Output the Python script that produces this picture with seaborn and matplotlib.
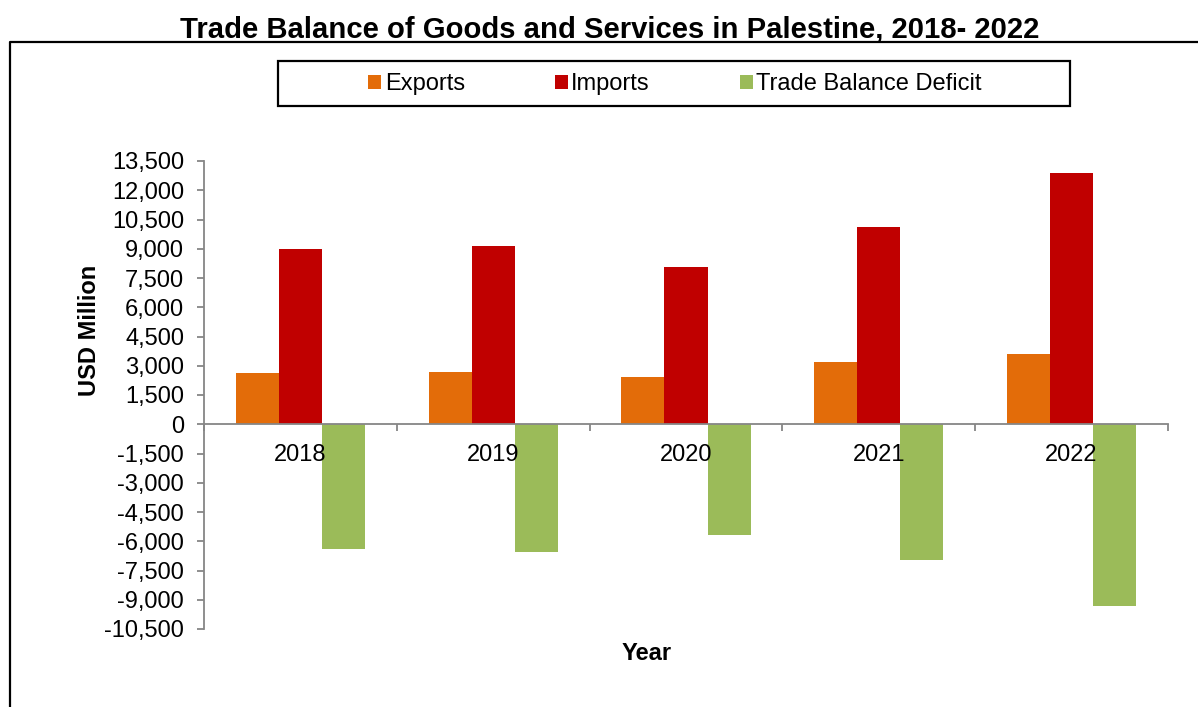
import matplotlib
matplotlib.use("Agg")
import matplotlib.pyplot as plt
import seaborn as sns
import pandas as pd
from matplotlib.patches import Rectangle
from matplotlib.lines import Line2D
from matplotlib.ticker import FuncFormatter, MultipleLocator, FixedLocator

years = ["2018", "2019", "2020", "2021", "2022"]
exports = [2650, 2690, 2410, 3170, 3590]
imports = [8990, 9150, 8060, 10100, 12870]
deficit = [-6420, -6540, -5700, -6970, -9340]
series_names = ["Exports", "Imports", "Trade Balance Deficit"]
colors = ["#E36C09", "#C00000", "#9BBB59"]

rows = []
for name, vals in zip(series_names, [exports, imports, deficit]):
    for y, v in zip(years, vals):
        rows.append({"Year": y, "Series": name, "Value": v})
df = pd.DataFrame(rows)

sns.set_theme(style="white")
plt.rcParams["font.family"] = ["Liberation Sans", "DejaVu Sans"]
plt.rcParams["text.color"] = "black"

W, H = 1198, 707
fig = plt.figure(figsize=(W / 100, H / 100), dpi=100)
ax = fig.add_axes([204 / W, 1 - 629 / H, (1168 - 204) / W, (629 - 161) / H])

sns.barplot(data=df, x="Year", y="Value", hue="Series", order=years,
            hue_order=series_names, palette=colors, width=0.67, gap=0,
            saturation=1, errorbar=None, ax=ax, legend=False,
            edgecolor="none", linewidth=0)
for p in ax.patches:
    p.set_zorder(1)
ax.set_axisbelow(False)

ax.set_ylim(-10500, 13500)
ax.set_xlim(-0.5, 4.5)
ax.yaxis.set_major_locator(MultipleLocator(1500))
ax.yaxis.set_major_formatter(FuncFormatter(lambda v, p: f"{int(round(v)):,}"))

grey = "#868686"
for s in ["top", "right"]:
    ax.spines[s].set_visible(False)
ax.spines["left"].set_color(grey)
ax.spines["left"].set_linewidth(1.3)
ax.spines["bottom"].set_color(grey)
ax.spines["bottom"].set_linewidth(1.3)
ax.spines["bottom"].set_position(("data", 0))

ax.tick_params(axis="y", which="major", direction="out", length=5.3, width=1.3,
               color=grey, labelsize=17, pad=9, left=True, labelcolor="black")
ax.xaxis.set_minor_locator(FixedLocator([-0.5, 0.5, 1.5, 2.5, 3.5, 4.5]))
ax.tick_params(axis="x", which="minor", direction="out", length=5.3, width=1.3,
               color=grey, bottom=True)
ax.tick_params(axis="x", which="major", length=0, labelsize=17, pad=14,
               labelcolor="black")
ax.set_xlabel("")
ax.set_ylabel("")

fig.text(610 / W, 1 - 30 / H, "Trade Balance of Goods and Services in Palestine, 2018- 2022",
         ha="center", va="center", fontsize=21.1, fontweight="bold", color="black")
fig.text(90 / W, 1 - 330 / H, "USD Million", rotation=90, ha="center", va="center",
         fontsize=17, fontweight="bold", color="black")
fig.text(647 / W, 1 - 654 / H, "Year", ha="center", va="center",
         fontsize=17, fontweight="bold", color="black")

# legend
handles = [Rectangle((0, 0), 1, 1, facecolor=c, edgecolor="none") for c in colors]
leg = fig.legend(handles, series_names, loc="center", bbox_to_anchor=(675 / W, 1 - 84 / H),
                 ncol=3, frameon=False, fontsize=17, handlelength=0.55, handleheight=0.55,
                 handletextpad=0.15, columnspacing=3.8, borderpad=0, labelcolor="black")
fig.patches.append(Rectangle((278 / W, 1 - 106 / H), (1070 - 278) / W, (106 - 61) / H,
                             transform=fig.transFigure, facecolor="none",
                             edgecolor="black", linewidth=1.6))

# outer chart border (top and left visible)
fig.lines.append(Line2D([10 / W, 10 / W, 1.0], [0.0, 1 - 42 / H, 1 - 42 / H],
                        transform=fig.transFigure, color="black", linewidth=1.6))

fig.savefig("out.png", dpi=100)
